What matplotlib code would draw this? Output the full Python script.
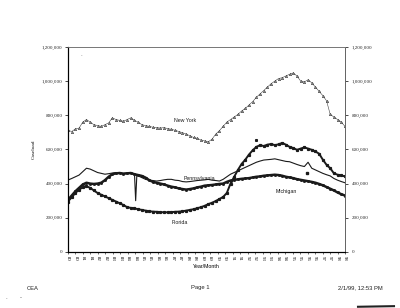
import numpy as np
import matplotlib.pyplot as plt
from matplotlib.ticker import FuncFormatter

# quarterly caseload (thousands), 1980Q1 .. 1998Q4
new_york = [712, 705, 720, 725, 760, 775, 760, 745, 740, 735, 745, 755,
            785, 775, 770, 765, 775, 785, 770, 760, 745, 740, 735, 730,
            728, 725, 728, 722, 718, 712, 705, 698, 690, 680, 670, 665,
            655, 650, 645, 660, 690, 710, 735, 760, 775, 790, 805, 825,
            840, 860, 880, 905, 925, 945, 965, 985, 1000, 1015, 1020, 1030,
            1040, 1048, 1030, 1000, 995, 1008, 990, 965, 940, 915, 885, 805,
            790, 775, 760, 735]
pennsylvania = [421, 430, 440, 450, 470, 490, 485, 475, 465, 460, 455, 458,
                462, 465, 462, 460, 462, 460, 455, 445, 435, 425, 420, 418,
                415, 418, 422, 425, 425, 420, 418, 412, 410, 412, 415, 418,
                420, 422, 425, 420, 418, 415, 425, 440, 455, 465, 475, 485,
                495, 505, 515, 525, 532, 538, 540, 542, 545, 540, 535, 530,
                528, 520, 512, 505, 500, 525, 490, 480, 470, 460, 452, 445,
                430, 420, 412, 405]
michigan = [305, 330, 355, 375, 395, 405, 400, 398, 400, 405, 420, 440,
            455, 460, 462, 458, 460, 462, 455, 450, 445, 435, 420, 410,
            405, 400, 395, 388, 382, 378, 372, 368, 365, 368, 372, 378,
            382, 388, 390, 392, 395, 398, 400, 410, 418, 422, 425, 428,
            430, 432, 436, 440, 442, 446, 448, 450, 452, 450, 446, 440,
            436, 432, 426, 422, 418, 414, 410, 405, 398, 390, 380, 370,
            360, 348, 338, 330]
florida = [295, 320, 345, 365, 378, 385, 375, 360, 345, 335, 325, 315,
           305, 295, 285, 275, 262, 258, 255, 250, 246, 242, 238, 236,
           235, 233, 232, 232, 233, 235, 236, 238, 242, 246, 250, 256,
           262, 270, 280, 288, 298, 310, 322, 345, 400, 440, 480, 515,
           540, 570, 595, 615, 625, 620, 628, 632, 625, 630, 638, 628,
           615, 608, 598, 605, 612, 605, 598, 588, 575, 540, 510, 490,
           460, 452, 448, 442]

# odd single readings
mi_spike_t = [1984.50, 1984.58, 1984.66]
mi_spike_v = [458, 300, 452]
mi_outlier_t = [1996.2]
mi_outlier_v = [462]
fl_outlier_t = [1992.7]
fl_outlier_v = [656]

year_labels = [str(y) for y in range(80, 99) for _ in range(2)]
y_ticks = [0, 200000, 400000, 600000, 800000, 1000000, 1200000]

quarters = 1980 + np.arange(len(new_york)) / 4
ink = '#1a1a1a'

fig = plt.figure(figsize=(4, 3.08), dpi=100)
ax = fig.add_axes([0.17, 0.182, 0.6925, 0.6656])

ax.plot(quarters, np.array(new_york) * 1000, color='#444', lw=0.4,
        marker='^', ms=1.6, mfc='white', mec='#222', mew=0.45)
ax.plot(quarters, np.array(pennsylvania) * 1000, color=ink, lw=0.8)
ax.plot(quarters, np.array(michigan) * 1000, color=ink, lw=1.8,
        marker='s', ms=1.0)
ax.plot(mi_spike_t, np.array(mi_spike_v) * 1000, color=ink, lw=0.8)
ax.plot(mi_outlier_t, np.array(mi_outlier_v) * 1000, 's', color=ink, ms=1.5)
ax.plot(quarters, np.array(florida) * 1000, color=ink, lw=1.4,
        marker='s', ms=1.3)
ax.plot(fl_outlier_t, np.array(fl_outlier_v) * 1000, 's', color=ink, ms=1.2)

lab = dict(fontsize=3.8, family='Liberation Sans', color=ink, ha='center', va='center')
ax.text(1987.9, 770000, 'New York', **lab)
ax.text(1988.9, 432000, 'Pennsylvania', **lab)
ax.text(1994.8, 355000, 'Michigan', **lab)
ax.text(1987.6, 175000, 'Florida', **lab)

ax.set_xlim(1980, 1998.75)
ax.set_ylim(0, 1200000)
ax.set_xticks(np.linspace(1980, 1998.75, len(year_labels)))
ax.set_xticklabels(year_labels, rotation=-90, fontsize=3.5, family='Liberation Serif')
fmt = FuncFormatter(lambda v, p: f'{int(v):,}')
ax.set_yticks(y_ticks)
ax.yaxis.set_major_formatter(fmt)
ax.tick_params(axis='y', labelsize=3.6, length=2, width=0.5, pad=2, labelcolor='#222')
ax.tick_params(axis='x', length=1.5, width=0.4, pad=1.5)
for lbl in ax.get_yticklabels():
    lbl.set_family('Liberation Serif')

ax2 = ax.twinx()
ax2.set_ylim(0, 1200000)
ax2.set_yticks(y_ticks)
ax2.yaxis.set_major_formatter(fmt)
ax2.tick_params(axis='y', labelsize=3.6, length=2, width=0.5, pad=3, labelcolor='#222')
for lbl in ax2.get_yticklabels():
    lbl.set_family('Liberation Serif')

for a in (ax, ax2):
    a.spines['left'].set_linewidth(0.8)
    a.spines['bottom'].set_linewidth(0.8)
    a.spines['top'].set_linewidth(0.6)
    a.spines['top'].set_color('#777')
    a.spines['right'].set_linewidth(0.7)
    a.spines['right'].set_color('#666')

ax.set_ylabel('Caseload', fontsize=3.8, family='Liberation Serif', labelpad=4)
ax.set_xlabel('Year/Month', fontsize=3.8, family='Liberation Sans', labelpad=2)

foot = dict(fontsize=4.2, family='Liberation Sans', color='#222', va='center')
fig.text(0.068, 1 - 288 / 308, 'CEA', ha='left', **foot)
fig.text(0.502, 1 - 288 / 308, 'Page 1', ha='center', **foot)
fig.text(0.90, 1 - 288 / 308, '2/1/99, 12:53 PM', ha='center', **foot)
fig.text(0.013, 1 - 299 / 308, '.', fontsize=4, color='#444')
fig.text(0.05, 1 - 299 / 308, '-', fontsize=4, color='#444')
fig.lines.append(plt.Line2D([0.895, 0.985], [0.004, 0.006], transform=fig.transFigure,
                            color='#222', lw=1.5))
fig.text(0.2, 1 - 56 / 308, '.', fontsize=4, color='#555')

fig.savefig('out.png', dpi=100)
